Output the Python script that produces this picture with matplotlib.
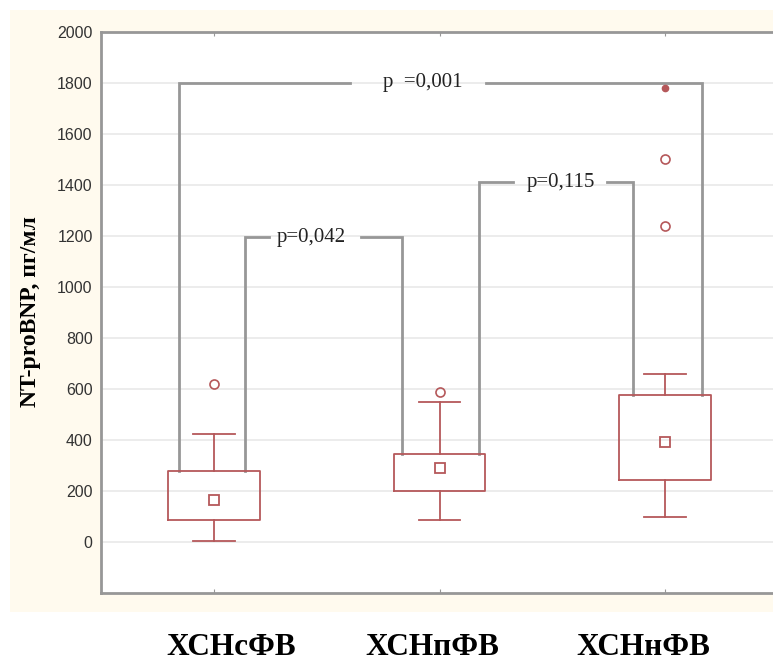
import matplotlib.pyplot as plt
from matplotlib.patches import Rectangle

# Groups and box statistics (пг/мл)
groups = ["ХСНсФВ", "ХСНпФВ", "ХСНнФВ"]
q1 = [88, 200, 245]
q3 = [280, 345, 578]
whis_lo = [5, 85, 100]
whis_hi = [425, 550, 658]
medians = [165, 290, 393]
outliers = [[618], [590], [1240, 1502]]
extremes = [[], [], [1780]]

# Pairwise comparisons: (group a, group b, bracket height, label)
pairs = [(0, 2, 1800, "p  =0,001"),
         (0, 1, 1195, "p=0,042"),
         (1, 2, 1410, "p=0,115")]

red = "#b5585a"
gray = "#979797"

fig = plt.figure(figsize=(7.73, 6.62), dpi=100)
fig.patches.append(Rectangle((10 / 773, 50 / 662), 763 / 773, 602 / 662,
                             transform=fig.transFigure, facecolor="#fffaee",
                             edgecolor="none", zorder=-1))

ax = fig.add_axes([101 / 773, 69 / 662, 677 / 773, 561 / 662])
ax.set_facecolor("white")

pos = [1, 2, 3]
stats = []
for i in range(3):
    stats.append(dict(q1=q1[i], q3=q3[i], whislo=whis_lo[i], whishi=whis_hi[i],
                      med=medians[i], fliers=outliers[i]))

lp = dict(color=red, linewidth=1.3)
ax.bxp(stats, positions=pos, widths=0.405, capwidths=0.186,
       boxprops=lp, whiskerprops=lp, capprops=lp,
       medianprops=dict(linestyle="none"),
       flierprops=dict(marker="o", markersize=6.5, markerfacecolor="none",
                       markeredgecolor=red, markeredgewidth=1.2),
       zorder=3)
ax.plot(pos, medians, linestyle="none", marker="s", markersize=7,
        markerfacecolor="none", markeredgecolor=red, markeredgewidth=1.3, zorder=4)
for i, ex in enumerate(extremes):
    if ex:
        ax.plot([pos[i]] * len(ex), ex, linestyle="none", marker="o", markersize=4.5,
                color=red, zorder=4)

# brackets: leg x, gap in the top line, label centre (data units)
legs = [(0.845, 3.164), (1.137, 1.836), (2.177, 2.858)]
gaps = [(1.602, 2.204), (1.243, 1.650), (2.327, 2.743)]
label_x = [1.925, 1.434, 2.540]
for (a, b, h, txt), (xl, xr), (g0, g1), tx in zip(pairs, legs, gaps, label_x):
    ax.plot([xl, xl, g0], [q3[a], h, h], color=gray, linewidth=2, zorder=2,
            solid_joinstyle="miter")
    ax.plot([g1, xr, xr], [h, h, q3[b]], color=gray, linewidth=2, zorder=2,
            solid_joinstyle="miter")
    ax.text(tx, h, txt, ha="center", va="center", fontsize=15,
            family="Liberation Serif", color="#222222")

ax.set_xlim(0.5, 3.5)
ax.set_ylim(-200, 2000)
ax.set_yticks(range(0, 2001, 200))
ax.set_xticks(pos)
ax.set_xticklabels([])
ax.grid(axis="y", color="#e9e9e9", linewidth=1.2, zorder=0)
ax.set_axisbelow(True)
ax.tick_params(axis="y", length=0, pad=6, labelsize=11.5, labelcolor="#333333")
ax.tick_params(axis="x", direction="in", length=3, color=gray, top=True)
for lab in ax.get_yticklabels():
    lab.set_family("Liberation Sans")
for side in ["left", "top", "bottom"]:
    ax.spines[side].set_color(gray)
    ax.spines[side].set_linewidth(2)
ax.spines["right"].set_visible(False)

fig.text(31 / 773, 1 - 312 / 662, "NT-proBNP, пг/мл", rotation=90, ha="center",
         va="center", fontsize=17, fontweight="bold", family="Liberation Serif")

label_px = [231, 432, 643]
for g, px in zip(groups, label_px):
    fig.text(px / 773, 7 / 662, g, ha="center", va="baseline", fontsize=22.5,
             fontweight="bold", family="Liberation Serif")

fig.savefig("out.png", dpi=100)
